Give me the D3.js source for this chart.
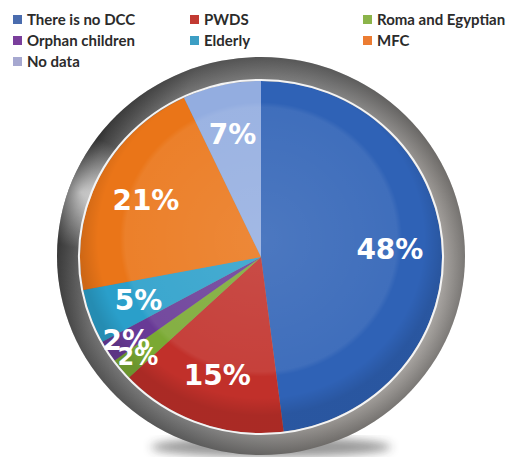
<!DOCTYPE html>
<html>
<head>
<meta charset="utf-8">
<script src="https://cdn.jsdelivr.net/npm/d3@7"></script>
<style>
  html, body { margin: 0; padding: 0; background: #fff; }
  svg { display: block; }
</style>
</head>
<body>
<div id="chart"></div>
<script>
// data
const categories = ["There is no DCC", "PWDS", "Roma and Egyptian", "Orphan children", "Elderly", "MFC", "No data"];
const values = [48, 15, 2, 2, 5, 21, 7];
const sliceColors = ["#2f62b6", "#c1302a", "#7aa933", "#683a96", "#2a9fca", "#ea7518", "#93ade0"];
const legendColors = ["#4a6cae", "#c23a32", "#8bb44a", "#7a3e9c", "#3c9ec4", "#ec7c32", "#a6a8d0"];

const w = 518, h = 457;
const cx = 261, cy = 257;
const r = 178;           // pie radius before the slight squash
const sx = 1.017, sy = 0.989;

const svg = d3.select("#chart").append("svg")
  .attr("width", w)
  .attr("height", h);

const defs = svg.append("defs");

// metal bezel gradient
const bezel = defs.append("linearGradient")
  .attr("id", "bezel")
  .attr("x1", "0").attr("y1", "0.3").attr("x2", "1").attr("y2", "0.7");
[[0, "#262626"], [0.07, "#5a5a5a"], [0.2, "#7d7d7d"], [0.5, "#8a8a8a"], [0.8, "#a9a5a1"], [1, "#c4c0bc"]]
  .forEach(s => bezel.append("stop").attr("offset", s[0]).attr("stop-color", s[1]));

const shine = defs.append("radialGradient")
  .attr("id", "shine")
  .attr("cx", "0.06").attr("cy", "0.34").attr("r", "0.14");
shine.append("stop").attr("offset", 0).attr("stop-color", "#fff").attr("stop-opacity", 0.9);
shine.append("stop").attr("offset", 1).attr("stop-color", "#fff").attr("stop-opacity", 0);

const rimDark = defs.append("radialGradient")
  .attr("id", "rimDark")
  .attr("cx", "0.5").attr("cy", "0.5").attr("r", "0.5");
rimDark.append("stop").attr("offset", 0.86).attr("stop-color", "#000").attr("stop-opacity", 0);
rimDark.append("stop").attr("offset", 1).attr("stop-color", "#000").attr("stop-opacity", 0.35);

const gloss = defs.append("radialGradient")
  .attr("id", "gloss")
  .attr("cx", "0.5").attr("cy", "0.45").attr("r", "0.5");
gloss.append("stop").attr("offset", 0).attr("stop-color", "#fff").attr("stop-opacity", 0.14);
gloss.append("stop").attr("offset", 0.75).attr("stop-color", "#fff").attr("stop-opacity", 0.08);
gloss.append("stop").attr("offset", 0.78).attr("stop-color", "#fff").attr("stop-opacity", 0);
gloss.append("stop").attr("offset", 0.9).attr("stop-color", "#000").attr("stop-opacity", 0);
gloss.append("stop").attr("offset", 1).attr("stop-color", "#000").attr("stop-opacity", 0.12);

defs.append("filter").attr("id", "blur")
  .append("feGaussianBlur").attr("stdDeviation", 5);

// shadow under the dial
svg.append("ellipse")
  .attr("cx", cx + 10).attr("cy", cy + 190)
  .attr("rx", 120).attr("ry", 10)
  .attr("fill", "#333")
  .attr("opacity", 0.5)
  .attr("filter", "url(#blur)");

// bezel ring
const ring = svg.append("g").attr("transform", `translate(${cx},${cy - 1})`);
ring.append("ellipse").attr("rx", 204).attr("ry", 199).attr("fill", "url(#bezel)");
ring.append("ellipse").attr("rx", 204).attr("ry", 199).attr("fill", "url(#shine)");
ring.append("ellipse").attr("rx", 204).attr("ry", 199).attr("fill", "url(#rimDark)");

// pie
const pie = d3.pie().sort(null).value(d => d);
const arcs = pie(values);
const arc = d3.arc().innerRadius(0).outerRadius(r);

const g = svg.append("g").attr("transform", `translate(${cx},${cy}) scale(${sx},${sy})`);

g.selectAll("path.slice")
  .data(arcs)
  .enter()
  .append("path")
  .attr("class", "slice")
  .attr("d", arc)
  .attr("fill", (d, i) => sliceColors[i]);

g.append("circle").attr("r", r).attr("fill", "url(#gloss)");
g.append("circle").attr("r", r + 1)
  .attr("fill", "none")
  .attr("stroke", "#f4f4f4")
  .attr("stroke-width", 2);

// percentage labels
const labelRadius = v => (v < 3 ? 157 : v < 10 ? 128 : 127);
svg.selectAll("text.pct")
  .data(arcs)
  .enter()
  .append("text")
  .attr("class", "pct")
  .attr("transform", d => {
    const c = d3.arc().innerRadius(labelRadius(d.value)).outerRadius(labelRadius(d.value)).centroid(d);
    return `translate(${cx + c[0] * sx},${cy + c[1] * sy})`;
  })
  .attr("text-anchor", "middle")
  .attr("dy", "0.36em")
  .attr("font-family", "DejaVu Sans, sans-serif")
  .attr("font-weight", "bold")
  .attr("font-size", (d, i) => (i === 2 ? 24 : 28))
  .attr("fill", "#fff")
  .text(d => d.value + "%");

// legend, three per row
const legend = svg.append("g").attr("class", "legend");
const colX = [13, 190, 363];
const rowY = [20, 41, 62];
const item = legend.selectAll("g")
  .data(categories)
  .enter()
  .append("g")
  .attr("transform", (d, i) => `translate(${colX[i % 3]},${rowY[Math.floor(i / 3)]})`);

item.append("rect")
  .attr("x", 0).attr("y", -5)
  .attr("width", 9).attr("height", 9)
  .attr("fill", (d, i) => legendColors[i]);

item.append("text")
  .attr("x", 14)
  .attr("dy", "0.35em")
  .attr("font-family", "Lato, sans-serif")
  .attr("font-size", 15)
  .attr("font-weight", "bold")
  .attr("fill", "#2b2b2b")
  .text(d => d);
</script>
</body>
</html>
